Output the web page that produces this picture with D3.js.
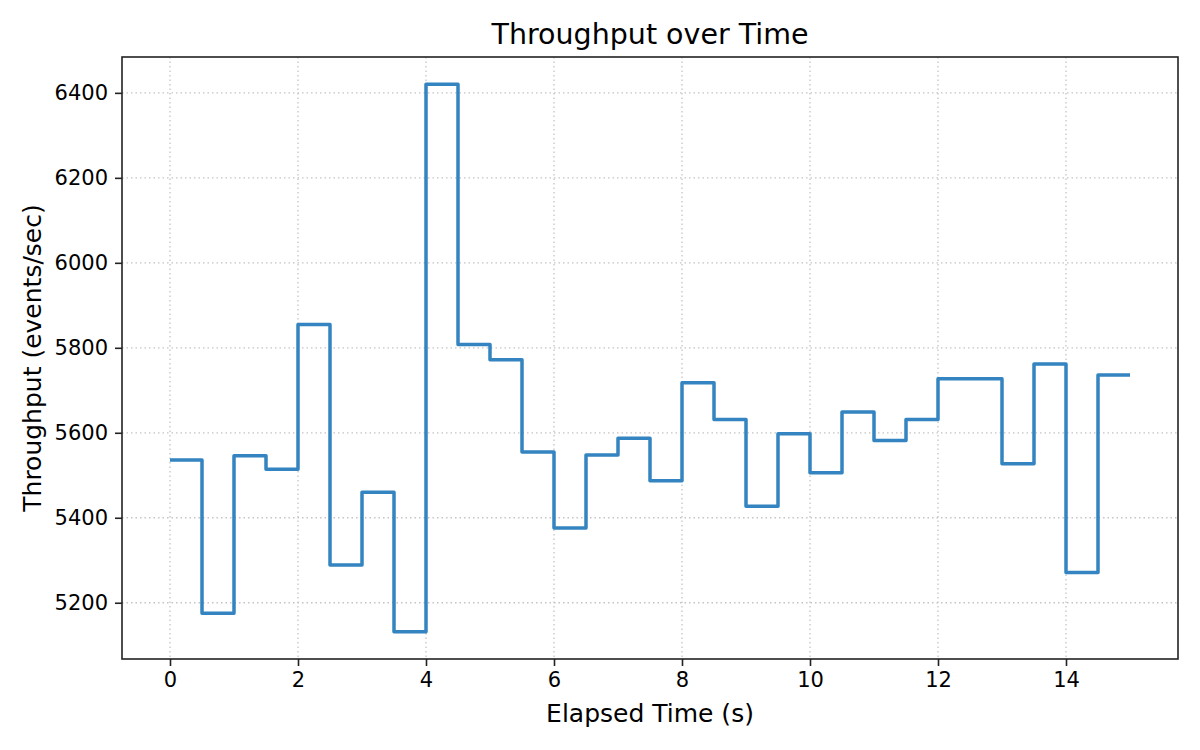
<!DOCTYPE html>
<html>
<head>
<meta charset="utf-8">
<script src="https://cdn.jsdelivr.net/npm/d3@7"></script>
<style>
  body { margin: 0; background: #fff; }
  svg { font-family: "DejaVu Sans", sans-serif; }
</style>
</head>
<body>
<svg width="1200" height="750"></svg>
<script>
// elapsed time (s) and throughput (events/sec)
const times = [0, 0.5, 1, 1.5, 2, 2.5, 3, 3.5, 4, 4.5, 5, 5.5, 6, 6.5, 7, 7.5,
  8, 8.5, 9, 9.5, 10, 10.5, 11, 11.5, 12, 12.5, 13, 13.5, 14, 14.5, 15];
const throughput = [5536, 5175, 5546, 5514, 5855, 5289, 5460, 5132, 6420, 5808,
  5772, 5555, 5376, 5548, 5587, 5487, 5718, 5631, 5427, 5598, 5506, 5649,
  5582, 5631, 5727, 5727, 5527, 5762, 5271, 5736, 5736];
const xTicks = [0, 2, 4, 6, 8, 10, 12, 14];
const yTicks = [5200, 5400, 5600, 5800, 6000, 6200, 6400];

const title = 'Throughput over Time';
const xLabel = 'Elapsed Time (s)';
const yLabel = 'Throughput (events/sec)';

const data = times.map((t, i) => ({ t: t, v: throughput[i] }));

const svg = d3.select('svg');
const pxL = 122, pxR = 1178, pxT = 57, pxB = 659;

// matplotlib-like 5% margins
const pad = (ext) => {
  const m = (ext[1] - ext[0]) * 0.05;
  return [ext[0] - m, ext[1] + m];
};
const scX = d3.scaleLinear().domain(pad(d3.extent(times))).range([pxL, pxR]);
const scY = d3.scaleLinear().domain(pad(d3.extent(throughput))).range([pxB, pxT]);

// grid
const grid = svg.append('g')
  .attr('stroke', '#c4c4c4')
  .attr('stroke-width', 1.3)
  .attr('stroke-dasharray', '1.5,3');
grid.selectAll('.gx').data(xTicks).enter()
  .append('line')
  .attr('x1', d => scX(d)).attr('x2', d => scX(d))
  .attr('y1', pxT).attr('y2', pxB);
grid.selectAll('.gy').data(yTicks).enter()
  .append('line')
  .attr('x1', pxL).attr('x2', pxR)
  .attr('y1', d => scY(d)).attr('y2', d => scY(d));

// the step line
const lnMkr = d3.line().curve(d3.curveStepAfter)
  .x(d => scX(d.t)).y(d => scY(d.v));
svg.append('path')
  .attr('fill', 'none')
  .attr('stroke', '#3384c0')
  .attr('stroke-width', 3.5)
  .attr('stroke-linejoin', 'round')
  .attr('d', lnMkr(data));

// axes
const styleAxis = (g) => {
  g.select('.domain').remove();
  g.selectAll('.tick line').attr('stroke', '#222').attr('stroke-width', 1.6);
  g.selectAll('.tick text').attr('fill', '#000')
    .style('font-family', '"DejaVu Sans", sans-serif')
    .style('font-size', '21px');
};
svg.append('g')
  .attr('transform', 'translate(0,' + pxB + ')')
  .call(d3.axisBottom(scX).tickValues(xTicks).tickSize(7).tickPadding(6))
  .call(styleAxis);
svg.append('g')
  .attr('transform', 'translate(' + pxL + ',0)')
  .call(d3.axisLeft(scY).tickValues(yTicks).tickSize(7).tickPadding(7)
    .tickFormat(d3.format('d')))
  .call(styleAxis);

// frame
svg.append('rect')
  .attr('x', pxL).attr('y', pxT)
  .attr('width', pxR - pxL).attr('height', pxB - pxT)
  .attr('fill', 'none')
  .attr('stroke', '#222')
  .attr('stroke-width', 1.6);

// texts
svg.append('text')
  .attr('x', (pxL + pxR) / 2).attr('y', 44)
  .attr('text-anchor', 'middle')
  .style('font-size', '28.5px')
  .text(title);
svg.append('text')
  .attr('x', (pxL + pxR) / 2).attr('y', 722)
  .attr('text-anchor', 'middle')
  .style('font-size', '25px')
  .text(xLabel);
svg.append('text')
  .attr('transform', 'translate(41,' + (pxT + pxB) / 2 + ') rotate(-90)')
  .attr('text-anchor', 'middle')
  .style('font-size', '25px')
  .text(yLabel);
</script>
</body>
</html>
